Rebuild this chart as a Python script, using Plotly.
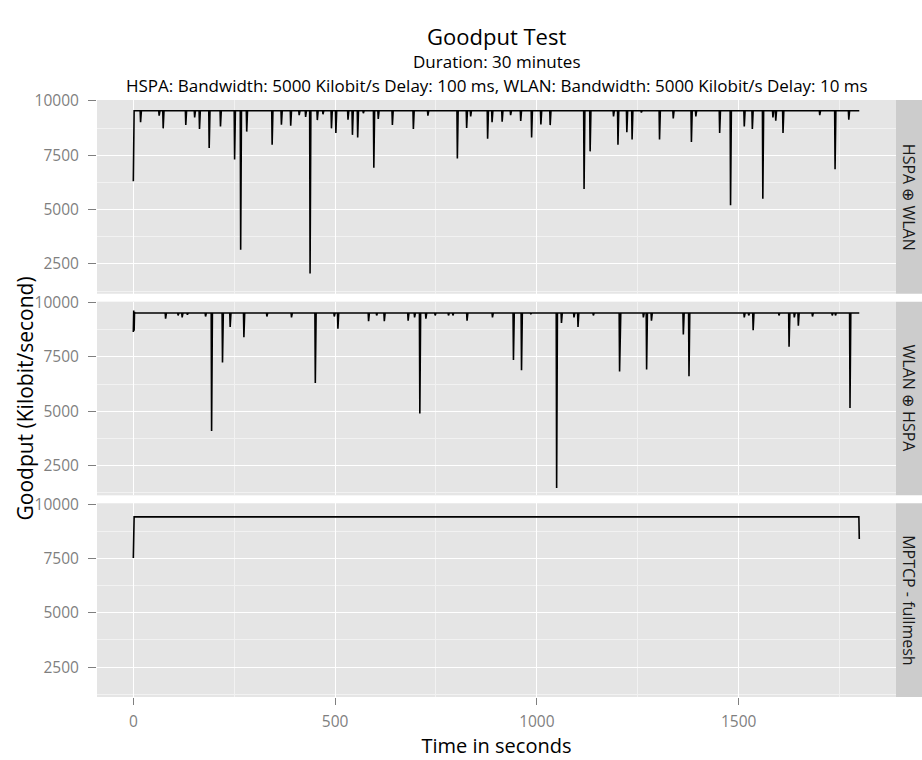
import plotly.graph_objects as go
from plotly.subplots import make_subplots

# ---------------- data ----------------
duration_s = 1800
panel_names = ["HSPA ⊕ WLAN", "WLAN ⊕ HSPA", "MPTCP - fullmesh"]

# HSPA ⊕ WLAN
hw_baseline = 9550
hw_dip_times = [0, 18, 64, 74, 130, 152, 164, 188, 216, 251,
                266, 281, 344, 367, 390, 411, 427, 438, 456, 470,
                491, 502, 532, 543, 556, 570, 596, 607, 642, 694,
                730, 803, 826, 836, 878, 889, 914, 935, 960, 987,
                1010, 1033, 1117, 1132, 1190, 1201, 1223, 1236, 1259, 1304,
                1338, 1383, 1394, 1453, 1480, 1514, 1534, 1560, 1585, 1592,
                1610, 1701, 1739, 1773]
hw_dip_values = [6300, 9020, 9320, 8740, 8890, 9240, 8710, 7830, 8830, 7300,
                 3150, 8590, 7990, 8910, 8860, 9350, 9270, 2050, 9120, 9390,
                 8740, 8530, 9140, 8440, 8320, 9440, 6920, 9170, 8890, 8710,
                 9320, 7350, 8760, 9290, 8260, 9020, 9050, 9350, 9080, 8320,
                 8920, 8890, 5950, 7680, 9290, 7990, 8560, 8230, 9470, 8230,
                 9200, 8110, 9290, 8530, 5200, 8830, 8710, 5500, 9240, 9090,
                 8530, 9350, 6860, 9140]

# WLAN ⊕ HSPA
wh_baseline = 9520
wh_dip_times = [0, 1, 2, 3, 80, 111, 121, 134, 179, 194,
                221, 240, 274, 331, 392, 451, 498, 507, 583, 603,
                622, 681, 697, 710, 725, 748, 781, 792, 827, 890,
                942, 962, 985, 1049, 1061, 1092, 1102, 1140, 1205, 1206,
                1264, 1272, 1284, 1363, 1377, 1514, 1525, 1536, 1600, 1625,
                1638, 1648, 1683, 1732, 1740, 1776]
wh_dip_values = [8650, 9640, 8700, 9560, 9260, 9410, 9320, 9440, 9360, 4090,
                 7240, 8880, 8410, 9360, 9320, 6300, 9360, 8800, 9140, 9410,
                 9140, 9170, 9320, 4890, 9260, 9410, 9410, 9410, 9170, 9320,
                 7360, 6890, 9470, 1460, 9060, 9320, 8880, 9410, 6830, 7620,
                 9320, 6920, 9170, 8530, 6610, 9320, 9410, 8730, 9410, 7970,
                 9320, 8940, 9360, 9410, 9410, 5150]

# MPTCP - fullmesh
mp_baseline = 9420
mp_dip_times = [0, 1799]
mp_dip_values = [7530, 8400]

y_ticks = [2500, 5000, 7500, 10000]
y_tick_labels = ["2500", "5000", "7500", "10000"]
x_ticks = [0, 500, 1000, 1500]
x_tick_labels = ["0", "500", "1000", "1500"]


def build_series(baseline, times, values):
    dips = dict(zip(times, values))
    t = list(range(duration_s))
    return t, [dips.get(s, baseline) for s in t]


series = [build_series(hw_baseline, hw_dip_times, hw_dip_values),
          build_series(wh_baseline, wh_dip_times, wh_dip_values),
          build_series(mp_baseline, mp_dip_times, mp_dip_values)]

# ---------------- figure ----------------
FONT = "Open Sans"
W, H = 922, 760
ML, MR, MT, MB = 97, 26, 100, 58
plot_w = W - ML - MR
plot_h = H - MT - MB

fig = make_subplots(rows=3, cols=1, shared_xaxes=True,
                    vertical_spacing=8 / plot_h)

for i, (t, v) in enumerate(series):
    fig.add_trace(go.Scatter(x=t, y=v, mode="lines",
                             line=dict(color="black", width=1.6),
                             showlegend=False, hoverinfo="skip"),
                  row=i + 1, col=1)

axis_font = dict(family=FONT, size=15.5, color="#7F7F7F")
for i in range(3):
    fig.update_xaxes(row=i + 1, col=1, range=[-90, 1890],
                     tickvals=x_ticks, ticktext=x_tick_labels,
                     showgrid=True, gridcolor="white",
                     gridwidth=1.3, zeroline=False, showline=False,
                     minor=dict(dtick=250, tick0=0, showgrid=True,
                                gridcolor="#F2F2F2", gridwidth=0.6),
                     ticks="outside" if i == 2 else "", ticklen=7,
                     tickcolor="#7F7F7F", tickwidth=1,
                     showticklabels=(i == 2), tickfont=axis_font,
                     ticklabelstandoff=3)
    fig.update_yaxes(row=i + 1, col=1, range=[1125, 10045],
                     tickvals=y_ticks, ticktext=y_tick_labels,
                     showgrid=True, gridcolor="white",
                     gridwidth=1.3, zeroline=False, showline=False,
                     minor=dict(dtick=1250, tick0=0, showgrid=True,
                                gridcolor="#F2F2F2", gridwidth=0.6),
                     ticks="outside", ticklen=8, tickcolor="#7F7F7F",
                     tickwidth=1, tickfont=axis_font, ticklabelstandoff=6)

fig.update_xaxes(row=3, col=1,
                 title=dict(text="Time in seconds",
                            font=dict(family=FONT, size=20, color="black"),
                            standoff=2))

strip_w = MR / plot_w
for i, name in enumerate(panel_names):
    yname = "y" if i == 0 else f"y{i + 1}"
    fig.add_shape(type="rect", xref="paper", yref=f"{yname} domain",
                  x0=1.0, x1=1.0 + strip_w, y0=0, y1=1,
                  fillcolor="#CCCCCC", line=dict(width=0), layer="below")
    fig.add_annotation(text=name, xref="paper", yref=f"{yname} domain",
                       x=1.0 + strip_w / 2, y=0.5, showarrow=False,
                       textangle=90, xanchor="center", yanchor="middle",
                       font=dict(family=FONT, size=16, color="#1A1A1A"))

# y axis title
fig.add_annotation(text="Goodput (Kilobit/second)", xref="paper",
                   yref="paper", x=-(ML - 24) / plot_w, y=0.5,
                   showarrow=False, textangle=-90, xanchor="center",
                   yanchor="middle",
                   font=dict(family=FONT, size=21, color="black"))

# titles
fig.add_annotation(text="Goodput Test", xref="paper", yref="paper",
                   x=0.5, y=1 + (MT - 35) / plot_h, showarrow=False,
                   xanchor="center", yanchor="middle",
                   font=dict(family=FONT, size=22, color="black"))
fig.add_annotation(text="Duration: 30 minutes", xref="paper", yref="paper",
                   x=0.5, y=1 + (MT - 61) / plot_h, showarrow=False,
                   xanchor="center", yanchor="middle",
                   font=dict(family=FONT, size=17, color="black"))
fig.add_annotation(text="HSPA: Bandwidth: 5000 Kilobit/s Delay: 100 ms, "
                        "WLAN: Bandwidth: 5000 Kilobit/s Delay: 10 ms",
                   xref="paper", yref="paper",
                   x=0.5, y=1 + (MT - 85) / plot_h, showarrow=False,
                   xanchor="center", yanchor="middle",
                   font=dict(family=FONT, size=17, color="black"))

fig.update_layout(width=W, height=H,
                  margin=dict(l=ML, r=MR, t=MT, b=MB),
                  paper_bgcolor="white", plot_bgcolor="#E5E5E5",
                  font=dict(family=FONT))

fig.write_html("out.html")
